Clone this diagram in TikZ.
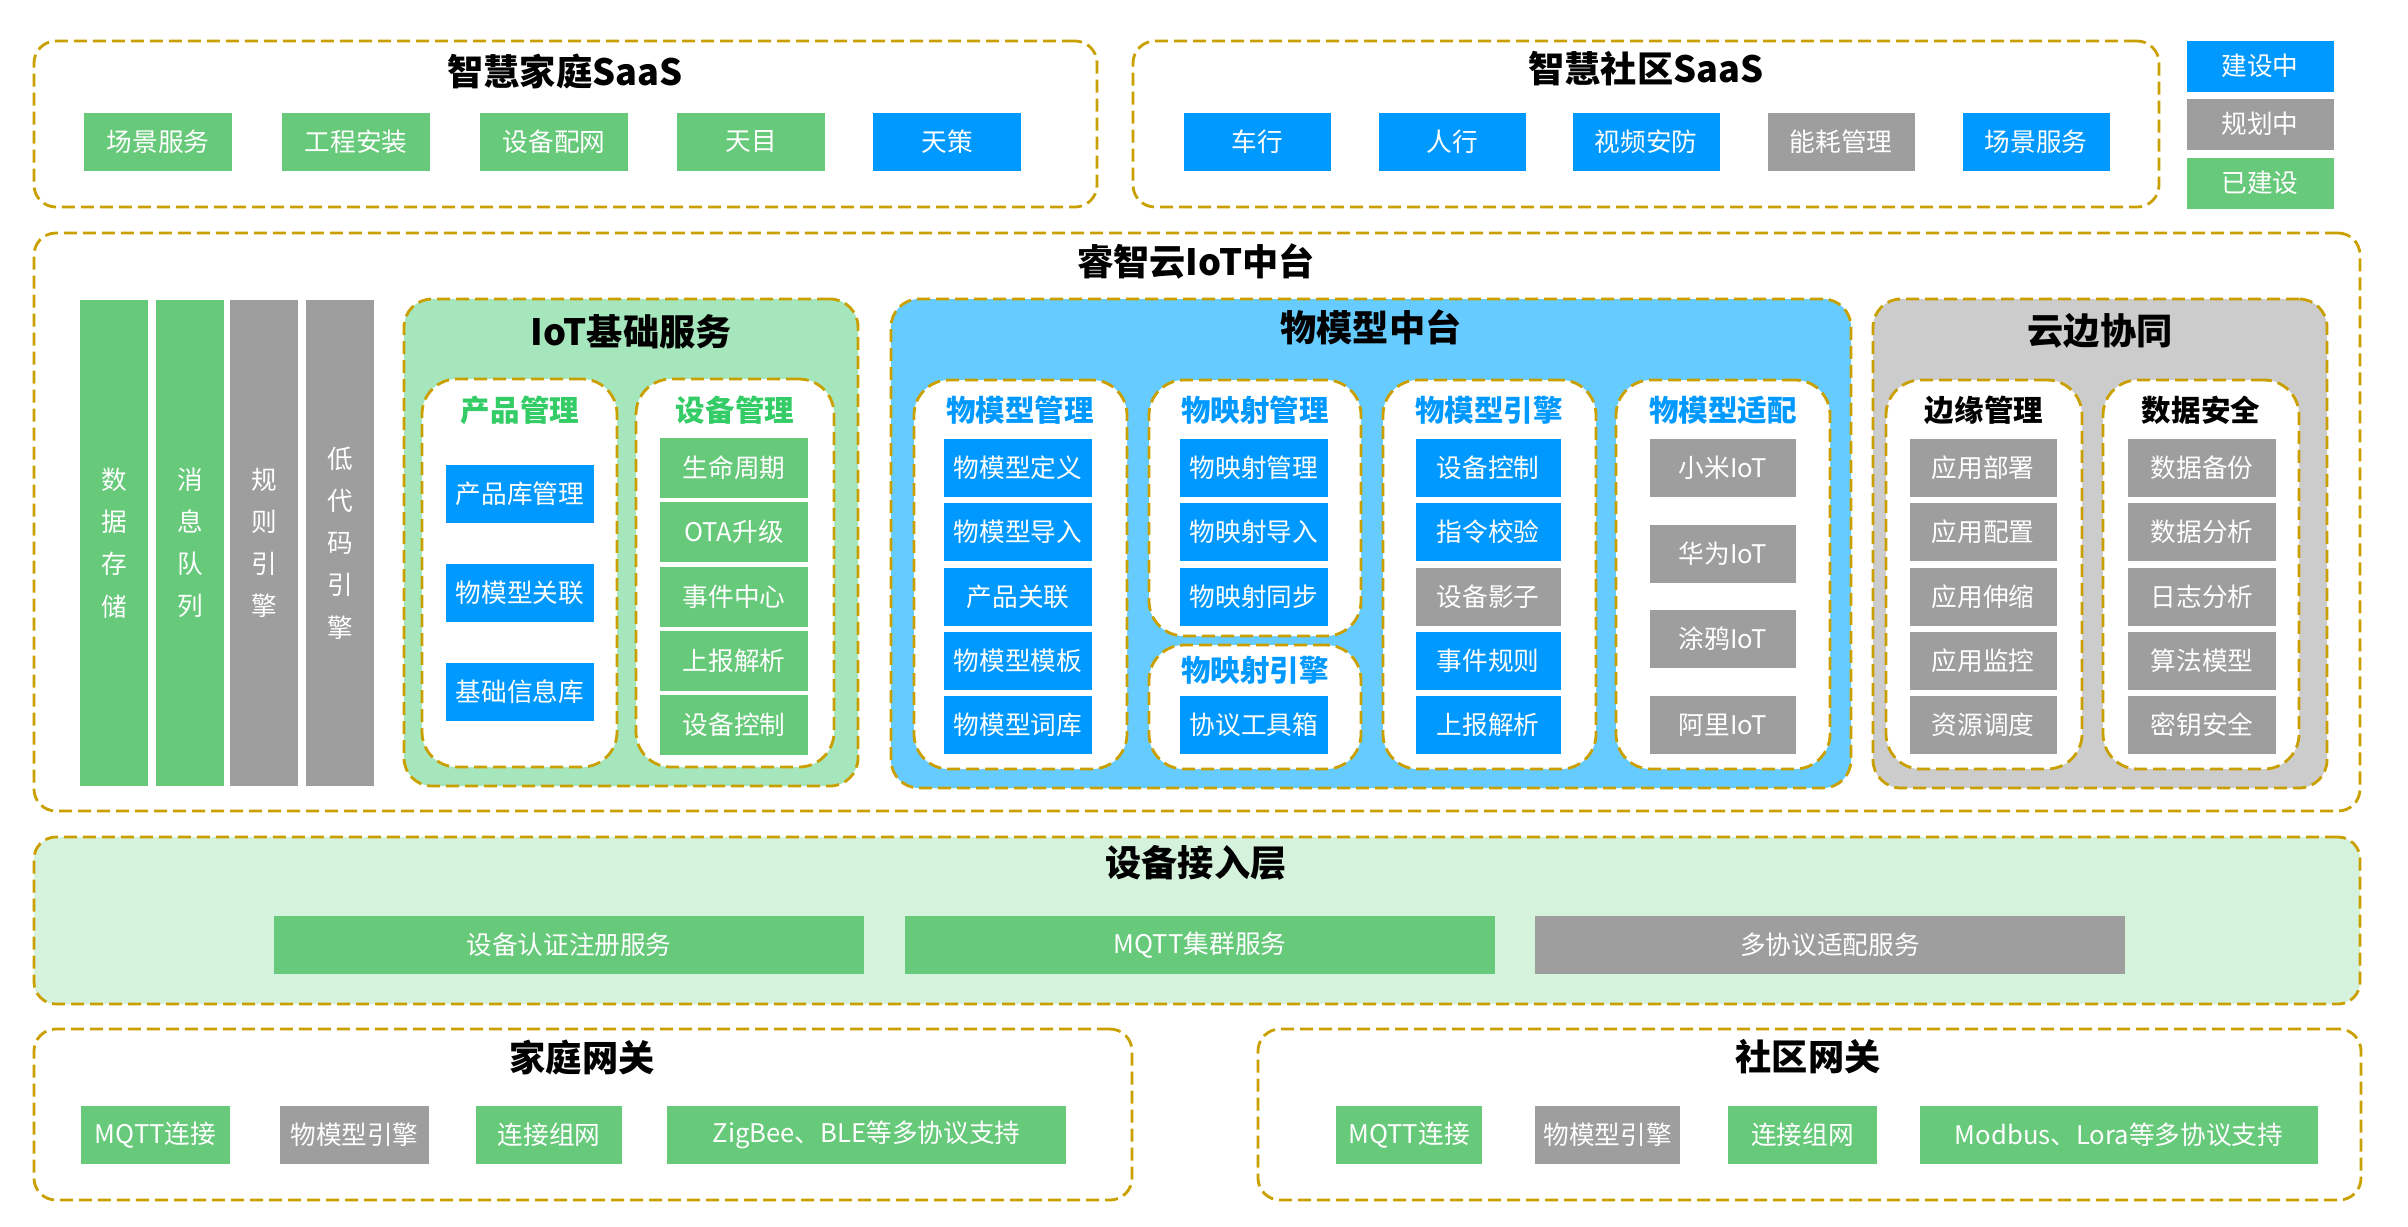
\documentclass[tikz,border=0pt]{standalone}
\usepackage{fontspec}
\setmainfont{Noto Sans CJK SC}
\usepackage{tikz}
\usetikzlibrary{positioning}
\definecolor{okgreen}{RGB}{103,201,122}
\definecolor{wipblue}{RGB}{0,153,255}
\definecolor{plangray}{RGB}{158,158,158}
\definecolor{dashgold}{RGB}{201,160,0}
\definecolor{iotbg}{RGB}{166,230,189}
\definecolor{tmbg}{RGB}{102,204,255}
\definecolor{edgebg}{RGB}{204,204,204}
\definecolor{accessbg}{RGB}{213,242,220}
\definecolor{subgreen}{RGB}{51,204,102}
\tikzstyle{item}=[rectangle,inner sep=0pt,text=white,minimum height=0.58cm,font=\fontsize{7.3}{9}\selectfont]
\tikzstyle{bar}=[item,minimum width=0.68cm,minimum height=4.86cm,align=center,font=\fontsize{7.3}{12}\selectfont]
\tikzstyle{layer}=[rectangle,inner sep=0pt,rounded corners=0.22cm,draw=dashgold,line width=0.8pt,dash pattern=on 0.13cm off 0.06cm]
\tikzstyle{panel}=[layer,rounded corners=0.28cm]
\tikzstyle{group}=[layer,rounded corners=0.35cm,fill=white]
\tikzstyle{title}=[font=\bfseries\fontsize{10.3}{12}\selectfont]
\tikzstyle{subtitle}=[font=\bfseries\fontsize{8.4}{10}\selectfont]

\begin{document}
\begin{tikzpicture}
\useasboundingbox (0,0) rectangle (24.08,-12.26);
\def\rowA{-4.68}
\def\rowB{-5.32}
\def\rowC{-5.97}
\def\rowD{-6.61}
\def\rowE{-7.25}
\def\subrow{-4.10}

	% SaaS
    \node[layer, minimum width=10.63cm, minimum height=1.66cm] (home) at (5.655,-1.24) {};
    \node[title] (home-t) at (5.65,-0.71) {智慧家庭SaaS};
    \foreach \name/\x/\col/\txt in {1/1.58/okgreen/场景服务, 2/3.56/okgreen/工程安装, 3/5.54/okgreen/设备配网, 4/7.51/okgreen/天目, 5/9.47/wipblue/天策}
        \node[item, fill=\col, minimum width=1.48cm] (home-\name) at (\x,-1.42) {\txt};

    \node[layer, minimum width=10.26cm, minimum height=1.66cm] (comm) at (16.46,-1.24) {};
    \node[title] (comm-t) at (16.46,-0.69) {智慧社区SaaS};
    \foreach \name/\x/\col/\txt in {1/12.57/wipblue/车行, 2/14.52/wipblue/人行, 3/16.46/wipblue/视频安防, 4/18.41/plangray/能耗管理, 5/20.36/wipblue/场景服务}
        \node[item, fill=\col, minimum width=1.47cm] (comm-\name) at (\x,-1.42) {\txt};

    % legend
    \foreach \name/\y/\col/\txt in {1/-0.66/wipblue/建设中, 2/-1.24/plangray/规划中, 3/-1.83/okgreen/已建设}
        \node[item, fill=\col, minimum width=1.47cm, minimum height=0.51cm] (key-\name) at (22.60,\y) {\txt};

	% IoT platform
    \node[layer, minimum width=23.26cm, minimum height=5.78cm] (cloud) at (11.97,-5.22) {};
    \node[title] (cloud-t) at (11.96,-2.61) {睿智云IoT中台};
    \foreach \name/\x/\col/\txt in {1/1.14/okgreen/{数\\据\\存\\储}, 2/1.90/okgreen/{消\\息\\队\\列}, 3/2.64/plangray/{规\\则\\引\\擎}, 4/3.40/plangray/{低\\代\\码\\引\\擎}}
        \node[bar, fill=\col] (bar-\name) at (\x,-5.43) {\txt};

    % IoT basic services
    \node[panel, fill=iotbg, minimum width=4.54cm, minimum height=4.87cm] (iot) at (6.31,-5.425) {};
    \node[title] (iot-t) at (6.31,-3.32) {IoT基础服务};
    \node[group, minimum width=1.95cm, minimum height=3.88cm] (prod) at (5.195,-5.73) {};
    \node[group, minimum width=1.98cm, minimum height=3.88cm] (dev) at (7.35,-5.73) {};
    \node[subtitle, text=subgreen] (prod-t) at (5.20,\subrow) {产品管理};
    \node[subtitle, text=subgreen] (dev-t) at (7.35,\subrow) {设备管理};
    \foreach \name/\y/\txt in {1/-4.94/产品库管理, 2/-5.93/物模型关联, 3/-6.92/基础信息库}
        \node[item, fill=wipblue, minimum width=1.48cm] (prod-\name) at (5.20,\y) {\txt};
    \foreach \name/\y/\txt in {1/\rowA/生命周期, 2/\rowB/OTA升级, 3/\rowC/事件中心, 4/\rowD/上报解析, 5/\rowE/设备控制}
        \node[item, fill=okgreen, minimum width=1.48cm, minimum height=0.6cm] (dev-\name) at (7.34,\y) {\txt};

    % thing model
    \node[panel, fill=tmbg, minimum width=9.60cm, minimum height=4.89cm] (tm) at (13.71,-5.435) {};
    \node[title] (tm-t) at (13.71,-3.27) {物模型中台};
    \node[group, minimum width=2.13cm, minimum height=3.89cm] (tmm) at (10.205,-5.745) {};
    \node[group, minimum width=2.12cm, minimum height=2.56cm] (map) at (12.55,-5.08) {};
    \node[group, minimum width=2.12cm, minimum height=1.24cm] (mapeng) at (12.55,-7.07) {};
    \node[group, minimum width=2.13cm, minimum height=3.89cm] (tme) at (14.895,-5.745) {};
    \node[group, minimum width=2.14cm, minimum height=3.89cm] (adapt) at (17.23,-5.745) {};
    \node[subtitle, text=wipblue] (tmm-t) at (10.20,\subrow) {物模型管理};
    \node[subtitle, text=wipblue] (map-t) at (12.55,\subrow) {物映射管理};
    \node[subtitle, text=wipblue] (mapeng-t) at (12.55,-6.70) {物映射引擎};
    \node[subtitle, text=wipblue] (tme-t) at (14.89,\subrow) {物模型引擎};
    \node[subtitle, text=wipblue] (adapt-t) at (17.23,\subrow) {物模型适配};
    \foreach \name/\y/\txt in {1/\rowA/物模型定义, 2/\rowB/物模型导入, 3/\rowC/产品关联, 4/\rowD/物模型模板, 5/\rowE/物模型词库}
        \node[item, fill=wipblue, minimum width=1.48cm] (tmm-\name) at (10.18,\y) {\txt};
    \foreach \name/\y/\txt in {1/\rowA/物映射管理, 2/\rowB/物映射导入, 3/\rowC/物映射同步}
        \node[item, fill=wipblue, minimum width=1.48cm] (map-\name) at (12.54,\y) {\txt};
    \node[item, fill=wipblue, minimum width=1.48cm] (mapeng-1) at (12.54,\rowE) {协议工具箱};
    \foreach \name/\y/\col/\txt in {1/\rowA/wipblue/设备控制, 2/\rowB/wipblue/指令校验, 3/\rowC/plangray/设备影子, 4/\rowD/wipblue/事件规则, 5/\rowE/wipblue/上报解析}
        \node[item, fill=\col, minimum width=1.45cm] (tme-\name) at (14.88,\y) {\txt};
    \foreach \name/\y/\txt in {1/\rowA/小米IoT, 2/-5.54/华为IoT, 3/-6.39/涂鸦IoT, 4/\rowE/阿里IoT}
        \node[item, fill=plangray, minimum width=1.46cm] (adapt-\name) at (17.23,\y) {\txt};

    % cloud edge
    \node[panel, fill=edgebg, minimum width=4.54cm, minimum height=4.89cm] (edge) at (21.00,-5.435) {};
    \node[title] (edge-t) at (21.00,-3.31) {云边协同};
    \node[group, minimum width=1.96cm, minimum height=3.89cm] (emgmt) at (19.84,-5.745) {};
    \node[group, minimum width=1.96cm, minimum height=3.89cm] (dsec) at (22.01,-5.745) {};
    \node[subtitle] (emgmt-t) at (19.84,\subrow) {边缘管理};
    \node[subtitle] (dsec-t) at (22.01,\subrow) {数据安全};
    \foreach \name/\y/\txt in {1/\rowA/应用部署, 2/\rowB/应用配置, 3/\rowC/应用伸缩, 4/\rowD/应用监控, 5/\rowE/资源调度}
        \node[item, fill=plangray, minimum width=1.47cm] (emgmt-\name) at (19.83,\y) {\txt};
    \foreach \name/\y/\txt in {1/\rowA/数据备份, 2/\rowB/数据分析, 3/\rowC/日志分析, 4/\rowD/算法模型, 5/\rowE/密钥安全}
        \node[item, fill=plangray, minimum width=1.48cm] (dsec-\name) at (22.02,\y) {\txt};

	% access layer
    \node[layer, fill=accessbg, minimum width=23.26cm, minimum height=1.67cm] (access) at (11.97,-9.205) {};
    \node[title] (access-t) at (11.96,-8.63) {设备接入层};
    \foreach \name/\x/\col/\txt in {1/5.69/okgreen/设备认证注册服务, 2/12.00/okgreen/MQTT集群服务, 3/18.30/plangray/多协议适配服务}
        \node[item, fill=\col, minimum width=5.90cm] (access-\name) at (\x,-9.45) {\txt};

    % gateways
    \node[layer, minimum width=10.98cm, minimum height=1.71cm] (hgw) at (5.83,-11.145) {};
    \node[title] (hgw-t) at (5.82,-10.57) {家庭网关};
    \foreach \name/\x/\w/\col/\txt in {1/1.555/1.49/okgreen/MQTT连接, 2/3.545/1.49/plangray/物模型引擎, 3/5.49/1.46/okgreen/连接组网, 4/8.665/3.99/okgreen/ZigBee、BLE等多协议支持}
        \node[item, fill=\col, minimum width=\w cm] (hgw-\name) at (\x,-11.35) {\txt};

    \node[layer, minimum width=11.03cm, minimum height=1.71cm] (cgw) at (18.095,-11.145) {};
    \node[title] (cgw-t) at (18.08,-10.57) {社区网关};
    \foreach \name/\x/\w/\col/\txt in {1/14.09/1.46/okgreen/MQTT连接, 2/16.075/1.45/plangray/物模型引擎, 3/18.025/1.49/okgreen/连接组网, 4/21.19/3.98/okgreen/Modbus、Lora等多协议支持}
        \node[item, fill=\col, minimum width=\w cm] (cgw-\name) at (\x,-11.35) {\txt};

\end{tikzpicture}
\end{document}
